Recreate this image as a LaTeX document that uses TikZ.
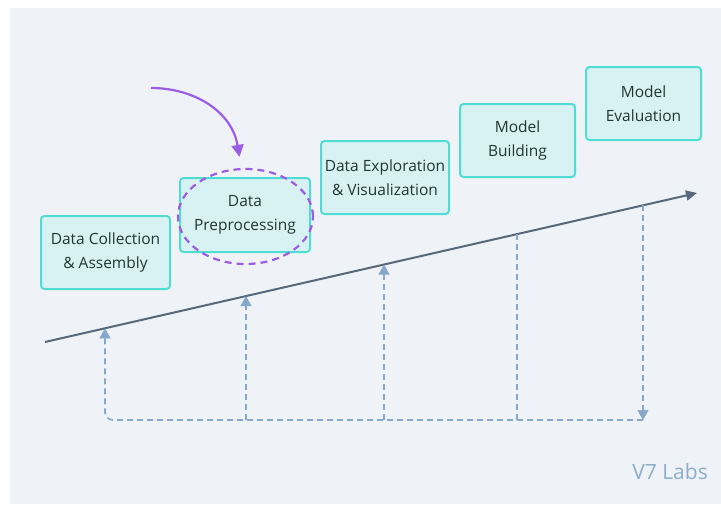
\documentclass[tikz,border=0pt]{standalone}
\usepackage{fontspec}
\setmainfont{Open Sans}
\usetikzlibrary{arrows.meta,shapes.geometric,calc}
\definecolor{panel}{HTML}{EFF3F8}
\definecolor{boxfill}{HTML}{D8F2F3}
\definecolor{boxdraw}{HTML}{4FDDD3}
\definecolor{boxtext}{HTML}{1F3634}
\definecolor{mainline}{HTML}{56687A}
\definecolor{loopc}{HTML}{86A8CA}
\definecolor{purp}{HTML}{9B5CE6}
\definecolor{brand}{HTML}{8BADCB}
\tikzset{
  stage/.style={draw=boxdraw, fill=boxfill, line width=2pt, rounded corners=3.5pt,
    text=boxtext, align=center, font=\fontsize{15.5}{24}\selectfont, inner sep=0pt},
  loopline/.style={draw=loopc, line width=1.7pt, dash pattern=on 6pt off 4pt},
  looptip/.style={draw=loopc, fill=loopc, line width=0.6pt, solid, -{Triangle[width=11pt,length=10pt]}},
}
\begin{document}
\begin{tikzpicture}[x=1pt,y=-1pt]
\useasboundingbox (0,0) rectangle (721,504);
\fill[panel] (10,8) rectangle (721,504);
% stages
\node[stage, minimum width=129pt, minimum height=73pt] (s1) at (105.5,252.5) {Data Collection\\\& Assembly};
\node[stage, minimum width=130pt, minimum height=74pt] (s2) at (245,215) {Data\\Preprocessing};
\node[stage, minimum width=128pt, minimum height=73pt] (s3) at (385,177.5) {Data Exploration\\\& Visualization};
\node[stage, minimum width=115pt, minimum height=73pt] (s4) at (517.5,140.5) {Model\\Building};
\node[stage, minimum width=115pt, minimum height=73pt] (s5) at (643.5,103.5) {Model\\Evaluation};
% highlight
\node[ellipse, draw=purp, line width=2.2pt, dash pattern=on 7pt off 5pt,
  minimum width=135pt, minimum height=95pt, inner sep=0pt] (hl) at (245.5,216.5) {};
\coordinate (pstart) at (151,88);
\coordinate (pend) at ($(hl.north)+(-6,-11)$);
\draw[purp, line width=2.2pt, -{Triangle[width=12pt,length=12pt]}]
  (pstart) .. controls (195,88) and (232,112) .. (pend);
% main axis
\coordinate (a0) at (45,342);
\coordinate (a1) at (697,193);
\draw[mainline, line width=2pt, -{Triangle[width=10pt,length=11pt]}] (a0) -- (a1);
% points on axis
\coordinate (p1) at (105,328.3);
\coordinate (p2) at (246,296.1);
\coordinate (p3) at (384,264.5);
\coordinate (p4) at (517,234.1);
\coordinate (p5) at (643,205.3);
\coordinate (b1) at (105,420);
\coordinate (b2) at (246,420);
\coordinate (b3) at (384,420);
\coordinate (b4) at (517,420);
\coordinate (b5) at (643,420);
% loop lines
\draw[loopline, shorten >=8pt] (p5) -- (b5);
\draw[loopline, rounded corners=8pt, shorten >=8pt] (b5) -- (b1) -- (p1);
\draw[loopline, shorten >=8pt] (b2) -- (p2);
\draw[loopline, shorten >=8pt] (b3) -- (p3);
\draw[loopline] (b4) -- (p4);
% solid tips
\draw[looptip] ($(b5)+(0,-10)$) -- (b5);
\draw[looptip] ($(p1)+(0,10)$) -- (p1);
\draw[looptip] ($(p2)+(0,10)$) -- (p2);
\draw[looptip] ($(p3)+(0,10)$) -- (p3);
% brand
\node[text=brand, font=\fontsize{21}{24}\selectfont, anchor=base east, inner sep=0pt] (brand) at (708,479) {V7 Labs};
\end{tikzpicture}
\end{document}
